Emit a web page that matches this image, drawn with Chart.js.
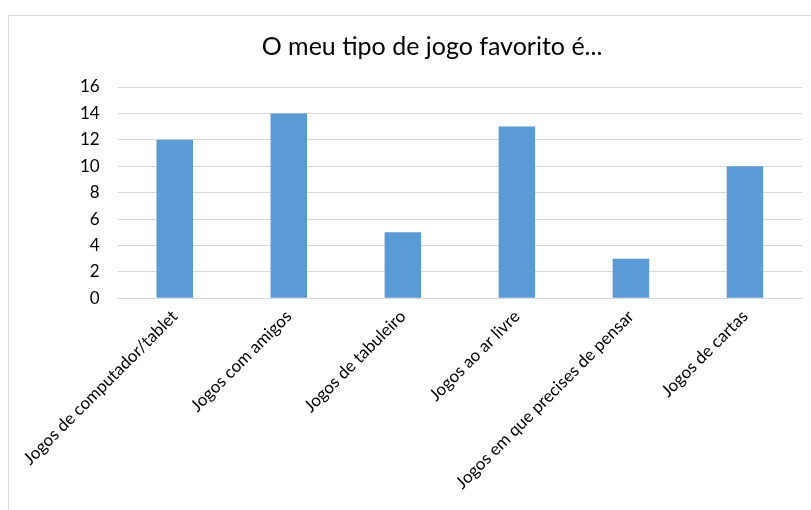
<!DOCTYPE html>
<html>
<head>
<meta charset="utf-8">
<script src="https://cdn.jsdelivr.net/npm/chart.js@4.4.0/dist/chart.umd.min.js"></script>
<style>
  html, body { margin: 0; padding: 0; background: #fff; overflow: hidden; }
  #frame {
    position: absolute; left: 8px; top: 15px; width: 820px; height: 520px;
    border: 1px solid #d9d9d9; box-sizing: border-box;
  }
  #wrap { position: absolute; left: 0; top: 0; width: 811px; height: 510px; }
</style>
</head>
<body>
<div id="frame"></div>
<div id="wrap"><canvas id="chart"></canvas></div>
<script>
const categories = [
  'Jogos de computador/tablet',
  'Jogos com amigos',
  'Jogos de tabuleiro',
  'Jogos ao ar livre',
  'Jogos em que precises de pensar',
  'Jogos de cartas'
];
const votes = [12, 14, 5, 13, 3, 10];
const yTicks = [0, 2, 4, 6, 8, 10, 12, 14, 16];

const fontFamily = 'Lato, "Open Sans", sans-serif';

new Chart(document.getElementById('chart').getContext('2d'), {
  type: 'bar',
  data: {
    labels: categories,
    datasets: [{
      data: votes,
      backgroundColor: '#5b9bd5',
      borderWidth: 0,
      barPercentage: 0.32,
      categoryPercentage: 1.0,
    }],
  },
  options: {
    responsive: true,
    maintainAspectRatio: false,
    animation: false,
    layout: { padding: { left: 62, right: 9, top: 32, bottom: 9 } },
    plugins: {
      legend: { display: false },
      tooltip: { enabled: false },
      title: {
        display: true,
        text: 'O meu tipo de jogo favorito é...',
        color: '#000',
        font: { family: fontFamily, size: 25, weight: 'normal' },
        padding: { top: 0, bottom: 25 },
      },
    },
    scales: {
      x: {
        grid: { display: false, drawTicks: false },
        border: { display: true, color: '#d9d9d9', width: 1 },
        ticks: {
          color: '#000',
          font: { family: fontFamily, size: 17 },
          minRotation: 45,
          maxRotation: 45,
          padding: 8,
        },
      },
      y: {
        min: 0,
        max: 16,
        afterBuildTicks: (axis) => { axis.ticks = yTicks.map((v) => ({ value: v })); },
        grid: { color: '#d9d9d9', lineWidth: 1, drawTicks: false },
        border: { display: false },
        ticks: {
          color: '#000',
          font: { family: fontFamily, size: 17 },
          padding: 18,
        },
      },
    },
  },
});
</script>
</body>
</html>
